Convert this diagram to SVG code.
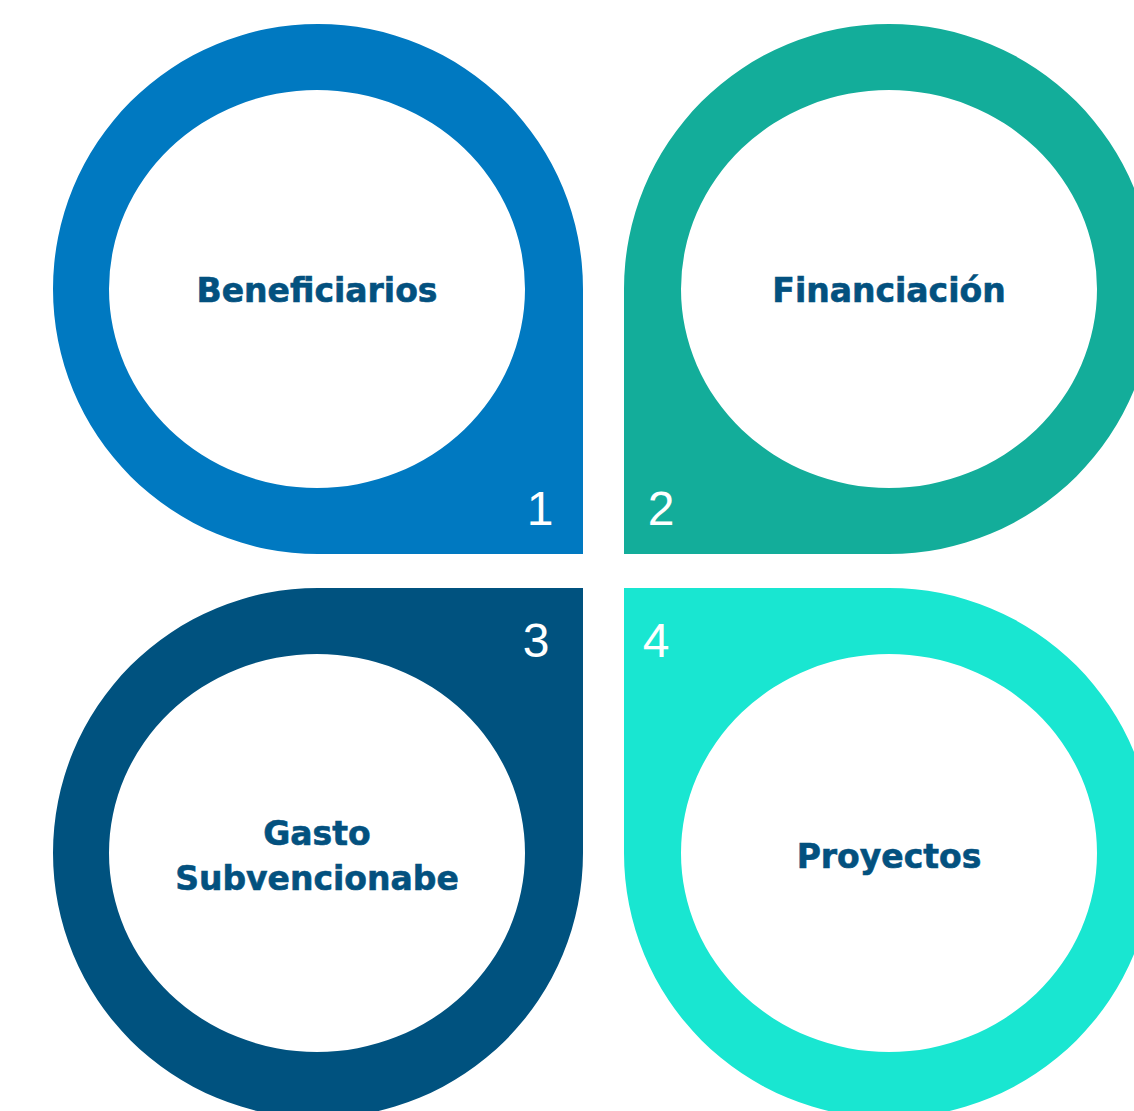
<svg xmlns="http://www.w3.org/2000/svg" width="1134" height="1111" viewBox="0 0 1134 1111">
<style>
.lbl{font-family:"DejaVu Sans",Verdana,sans-serif;font-weight:bold;font-size:33px;fill:#03517F;stroke:#03517F;stroke-width:0.6;text-anchor:middle}
.num{font-family:"Liberation Sans",Arial,sans-serif;font-size:48px;fill:#ffffff;text-anchor:middle}
.shape{fill-rule:evenodd}
</style>
<rect width="1134" height="1111" fill="#ffffff"/>
<g id="node1">
<path class="shape" fill="#0079C1" d="M583,289 A265,265 0 1 0 318,554 L583,554 Z M109,289 A208,199 0 1 0 525,289 A208,199 0 1 0 109,289 Z"/>
<text class="lbl" x="317" y="302">Beneficiarios</text>
<text class="num" x="540" y="525">1</text>
</g>
<g id="node2">
<path class="shape" fill="#13AD9A" d="M889,554 A265,265 0 1 0 624,289 L624,554 Z M681,289 A208,199 0 1 0 1097,289 A208,199 0 1 0 681,289 Z"/>
<text class="lbl" x="889" y="302">Financiación</text>
<text class="num" x="661" y="525">2</text>
</g>
<g id="node3">
<path class="shape" fill="#00527F" d="M318,588 A265,265 0 1 0 583,853 L583,588 Z M109,853 A208,199 0 1 0 525,853 A208,199 0 1 0 109,853 Z"/>
<text class="lbl" x="317" y="845">Gasto</text>
<text class="lbl" x="317" y="890">Subvencionabe</text>
<text class="num" x="536" y="657">3</text>
</g>
<g id="node4">
<path class="shape" fill="#19E6D1" d="M624,853 A265,265 0 1 0 889,588 L624,588 Z M681,853 A208,199 0 1 0 1097,853 A208,199 0 1 0 681,853 Z"/>
<text class="lbl" x="889" y="868">Proyectos</text>
<text class="num" x="656" y="657">4</text>
</g>
<g id="connectors"></g>
</svg>
